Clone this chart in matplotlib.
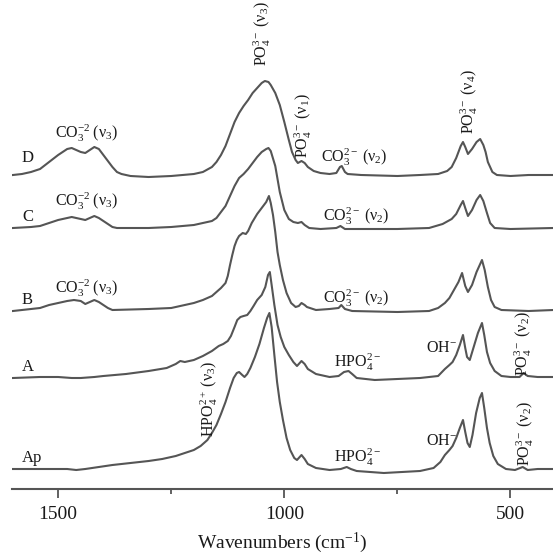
import matplotlib
matplotlib.use('Agg')
import matplotlib.pyplot as plt

plt.rcParams['font.family'] = ['Liberation Serif', 'DejaVu Serif']
plt.rcParams['mathtext.fontset'] = 'custom'
plt.rcParams['mathtext.rm'] = 'Liberation Serif'
plt.rcParams['mathtext.it'] = 'Liberation Serif:italic'
plt.rcParams['mathtext.bf'] = 'Liberation Serif:bold'

# FTIR spectra: wavenumber (cm-1) and absorbance (a.u., stacked)
wn_D = [1600, 1580, 1560, 1540, 1520, 1500, 1480, 1470, 1460, 1450, 1440, 1430, 1420, 1410,
        1400, 1390, 1380, 1370, 1360, 1340, 1300, 1250, 1200, 1180, 1160, 1150, 1140, 1130,
        1120, 1110, 1100, 1090, 1080, 1070, 1060, 1050, 1043, 1035, 1030, 1020, 1010, 1000,
        990, 983, 975, 970, 962, 955, 948, 935, 920, 900, 885, 877, 873, 866, 860, 830,
        750, 700, 660, 640, 630, 620, 610, 605, 600, 594, 585, 575, 567, 560, 555, 550,
        540, 530, 500, 460, 405]
ab_D = [314, 315, 317, 320, 327, 334, 340, 341, 339, 337, 336, 339, 342, 340,
        334, 328, 322, 317, 315, 313, 312, 313, 315, 317, 322, 327, 334, 343,
        355, 367, 376, 383, 389, 396, 401, 406, 408, 407, 404, 396, 384, 367,
        349, 337, 329, 326, 328, 326, 322, 318, 316, 315, 316, 322, 323, 317, 315, 314,
        313, 314, 315, 318, 322, 331, 343, 347, 342, 335, 340, 347, 350, 344, 337, 327,
        317, 314, 313, 314, 314]

wn_C = [1600, 1560, 1540, 1520, 1500, 1480, 1470, 1460, 1450, 1440, 1430, 1420, 1410, 1400,
        1390, 1380, 1370, 1300, 1250, 1200, 1180, 1160, 1150, 1140, 1130, 1120, 1110, 1100,
        1090, 1080, 1070, 1060, 1050, 1040, 1035, 1030, 1020, 1010, 1000, 990, 980, 970,
        962, 955, 945, 920, 885, 876, 866, 830, 750, 680, 650, 630, 620, 610, 605, 600,
        594, 585, 575, 567, 560, 552, 545, 535, 500, 405]
ab_C = [261, 262, 263, 266, 269, 271, 272, 271, 270, 269, 271, 273, 271, 268,
        265, 262, 261, 261, 262, 264, 266, 268, 271, 277, 283, 293, 303, 311,
        315, 320, 326, 332, 337, 340, 341, 338, 323, 297, 279, 270, 267, 266,
        267, 264, 261, 260, 261, 263, 260, 260, 260, 261, 265, 270, 275, 284, 288, 281,
        273, 279, 289, 294, 288, 276, 266, 261, 260, 261]

wn_B = [1600, 1560, 1540, 1520, 1500, 1480, 1465, 1450, 1440, 1430, 1420, 1410, 1400, 1390,
        1380, 1300, 1250, 1200, 1180, 1160, 1150, 1140, 1130, 1125, 1120, 1115, 1110, 1105,
        1100, 1092, 1085, 1080, 1072, 1060, 1050, 1040, 1034, 1030, 1025, 1020, 1015, 1010,
        1003, 995, 985, 975, 968, 962, 955, 950, 930, 900, 880, 874, 866, 850, 750, 680,
        660, 645, 635, 625, 615, 607, 600, 594, 585, 575, 563, 557, 550, 543, 535, 520,
        460, 405]
ab_B = [178, 180, 181, 184, 186, 188, 189, 188, 185, 187, 189, 187, 184, 181,
        179, 180, 181, 186, 189, 193, 197, 201, 206, 213, 224, 234, 243, 249,
        253, 256, 255, 258, 266, 275, 281, 287, 293, 286, 274, 257, 237, 224,
        209, 196, 186, 182, 183, 186, 184, 182, 179, 180, 181, 184, 180, 178, 177, 178,
        181, 186, 191, 199, 207, 216, 203, 197, 204, 217, 229, 219, 202, 189, 182, 179,
        178, 179]

wn_A = [1600, 1540, 1500, 1470, 1450, 1420, 1400, 1350, 1300, 1260, 1240, 1230, 1220, 1200,
        1180, 1160, 1145, 1135, 1125, 1118, 1110, 1104, 1097, 1090, 1082, 1075, 1068, 1060,
        1050, 1042, 1036, 1032, 1028, 1022, 1015, 1008, 1000, 990, 980, 972, 962, 955,
        948, 930, 900, 880, 868, 858, 850, 840, 800, 700, 660, 645, 635, 628, 620, 612,
        605, 600, 596, 590, 582, 572, 563, 558, 552, 545, 535, 520, 500, 480, 471, 462,
        440, 405]
ab_A = [111, 112, 112, 111, 111, 112, 113, 115, 118, 121, 125, 128, 127, 129,
        133, 138, 143, 145, 148, 153, 162, 169, 172, 173, 174, 178, 183, 189,
        194, 202, 214, 217, 204, 184, 164, 152, 142, 134, 127, 123, 128, 125,
        120, 115, 112, 113, 117, 118, 115, 111, 109, 111, 113, 120, 124, 127, 134, 144,
        154, 141, 132, 129, 141, 156, 166, 154, 137, 126, 118, 113, 112, 112, 116, 113,
        112, 112]

wn_Ap = [1600, 1520, 1480, 1460, 1440, 1410, 1380, 1340, 1300, 1270, 1240, 1220, 1200, 1185,
         1170, 1160, 1150, 1140, 1130, 1120, 1112, 1105, 1100, 1093, 1088, 1082, 1075, 1065,
         1055, 1045, 1038, 1033, 1028, 1022, 1016, 1010, 1003, 995, 987, 978, 972, 962,
         955, 948, 930, 900, 875, 862, 853, 840, 780, 700, 670, 655, 645, 635, 628, 620,
         612, 605, 600, 595, 590, 584, 576, 568, 563, 558, 552, 546, 538, 528, 510, 490,
         473, 462, 440, 405]
ab_Ap = [20, 20, 20, 19, 20, 22, 24, 26, 28, 30, 33, 36, 39, 43,
         49, 56, 64, 75, 87, 101, 111, 116, 117, 114, 112, 115, 121, 132,
         145, 161, 171, 176, 162, 134, 107, 87, 69, 51, 39, 31, 29, 34,
         30, 25, 21, 19, 20, 22, 20, 18, 16, 18, 21, 27, 34, 39, 43, 51,
         61, 69, 57, 46, 42, 54, 76, 91, 96, 81, 61, 46, 33, 25, 20, 19,
         22, 19, 20, 20]

sample_names = ['D', 'C', 'B', 'A', 'Ap']
major_ticks = [1500, 1000, 500]
minor_ticks = [1250, 750]

line_col = '#555555'
txt_col = '#1a1a1a'
sp = '\u2009'  # thin space between ion and mode

fig = plt.figure(figsize=(5.53, 5.57), dpi=100)
ax = fig.add_axes([12 / 553, 68 / 557, 541 / 553, 489 / 557])

for x, y in [(wn_D, ab_D), (wn_C, ab_C), (wn_B, ab_B), (wn_A, ab_A), (wn_Ap, ab_Ap)]:
    ax.plot(x, y, color=line_col, lw=1.5, solid_joinstyle='round')

ax.set_xlim(1602, 406)
ax.set_ylim(0, 489)

# sample names at left
for name, ypos in zip(sample_names, [331, 272, 189, 122, 31]):
    ax.text(1580, ypos, name, fontsize=12, color=txt_col, ha='left', va='center')

fs = 11.5
# band assignments
for ypos in [356, 288, 201]:
    ax.text(1437, ypos, r'CO$_3^{-2}$' + sp + r'(ν$_3$)', fontsize=fs, color=txt_col, ha='center', va='center')
for xpos, ypos in [(846, 332), (842, 273), (842, 191)]:
    ax.text(xpos, ypos, r'CO$_3^{2-}$' + sp + r'(ν$_2$)', fontsize=fs, color=txt_col, ha='center', va='center')
ax.text(1048, 455, r'PO$_4^{3-}$' + sp + r'(ν$_3$)', fontsize=fs, color=txt_col, rotation=90, ha='center', va='center')
ax.text(959, 363, r'PO$_4^{3-}$' + sp + r'(ν$_1$)', fontsize=fs, color=txt_col, rotation=90, ha='center', va='center')
ax.text(590, 387, r'PO$_4^{3-}$' + sp + r'(ν$_4$)', fontsize=fs, color=txt_col, rotation=90, ha='center', va='center')
ax.text(471, 145, r'PO$_4^{3-}$' + sp + r'(ν$_2$)', fontsize=fs, color=txt_col, rotation=90, ha='center', va='center')
ax.text(467, 55, r'PO$_4^{3-}$' + sp + r'(ν$_2$)', fontsize=fs, color=txt_col, rotation=90, ha='center', va='center')
ax.text(1165, 90, r'HPO$_4^{2+}$' + sp + r'(ν$_3$)', fontsize=fs, color=txt_col, rotation=90, ha='center', va='center')
for ypos in [127, 32]:
    ax.text(838, ypos, r'HPO$_4^{2-}$', fontsize=fs, color=txt_col, ha='center', va='center')
for ypos in [141, 48]:
    ax.text(652, ypos, r'OH$^{-}$', fontsize=fs, color=txt_col, ha='center', va='center')

# axis styling
for s in ['left', 'right', 'top']:
    ax.spines[s].set_visible(False)
ax.spines['bottom'].set_color(line_col)
ax.spines['bottom'].set_linewidth(1.5)
ax.set_yticks([])
ax.set_xticks(major_ticks)
ax.set_xticks(minor_ticks, minor=True)
ax.tick_params(axis='x', which='major', length=6.5, width=1.3, color=line_col,
               direction='out', pad=6, labelsize=14, labelcolor=txt_col)
ax.tick_params(axis='x', which='minor', length=3.5, width=1.3, color=line_col, direction='out')
ax.set_xlabel('Wavenumbers (cm$^{-1}$)', fontsize=14, color=txt_col, labelpad=5)

fig.savefig('out.png', dpi=100)
